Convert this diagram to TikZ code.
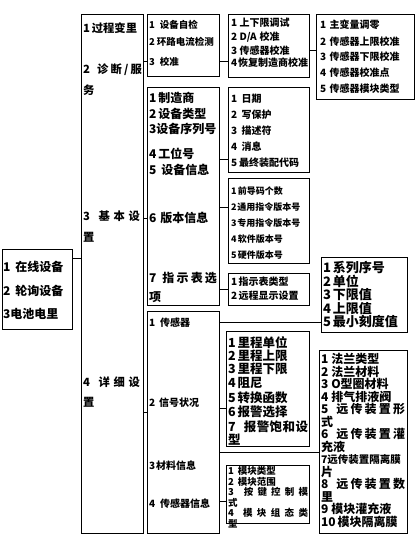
\documentclass[tikz,border=0pt]{standalone}
\usepackage{fontspec}
\newfontfamily\cjk{Noto Sans CJK SC}
\newcommand\jst[2]{\makebox[#1][s]{#2}}
\tikzset{
  box/.style={draw, line width=0.8pt, inner sep=0pt, outer sep=0pt, anchor=north west},
  conn/.style={draw, line width=0.8pt},
  txt/.style={anchor=west, inner sep=0pt, outer sep=0pt},
  s9/.style={txt, font=\cjk\bfseries\fontsize{9}{10}\selectfont},
  s95/.style={txt, font=\cjk\bfseries\fontsize{9.5}{10}\selectfont},
  s10/.style={txt, font=\cjk\bfseries\fontsize{10}{11}\selectfont},
  s105/.style={txt, font=\cjk\bfseries\fontsize{10.5}{11}\selectfont},
  s11/.style={txt, font=\cjk\bfseries\fontsize{11.3}{12}\selectfont},
  s12/.style={txt, font=\cjk\bfseries\fontsize{12}{13}\selectfont},
  s125/.style={txt, font=\cjk\bfseries\fontsize{12.5}{13}\selectfont},
  s13/.style={txt, font=\cjk\bfseries\fontsize{13}{14}\selectfont},
}
\begin{document}
\begin{tikzpicture}[x=1pt, y=-1pt]
\useasboundingbox[fill=white] (0,0) rectangle (417,539);
% boxes
\node[box, minimum width=70, minimum height=80] (L0) at (2,249) {};
\node[box, minimum width=62, minimum height=519] (C2) at (81,14) {};
\node[box, minimum width=72, minimum height=62] (A) at (147,14) {};
\node[box, minimum width=72, minimum height=218] (B) at (147,87) {};
\node[box, minimum width=72, minimum height=222] (Cc) at (147,311) {};
\node[box, minimum width=81, minimum height=63] (D) at (228,14) {};
\node[box, minimum width=98, minimum height=85] (E) at (316,14) {};
\node[box, minimum width=81, minimum height=85] (F) at (228,87) {};
\node[box, minimum width=81, minimum height=85] (G) at (228,178) {};
\node[box, minimum width=81, minimum height=32] (H) at (228,273) {};
\node[box, minimum width=86, minimum height=75] (I) at (321,257) {};
\node[box, minimum width=83, minimum height=115] (J) at (226,331) {};
\node[box, minimum width=88, minimum height=183] (K) at (319,350) {};
\node[box, minimum width=83, minimum height=58] (Lb) at (226,465) {};
% connectors
\draw[conn] (L0.east |- 0,258) -- (C2.west |- 0,258);
\draw[conn] (C2.east |- 0,61) -- (A.west |- 0,61);
\draw[conn] (C2.east |- 0,218) -- (B.west |- 0,218);
\draw[conn] (C2.east |- 0,412) -- (Cc.west |- 0,412);
\draw[conn] (A.east |- 0,61) -- (D.west |- 0,61);
\draw[conn] (D.east |- 0,50) -- (E.west |- 0,50);
\draw[conn] (B.east |- 0,159) -- (F.west |- 0,159);
\draw[conn] (B.east |- 0,207) -- (G.west |- 0,207);
\draw[conn] (B.east |- 0,289) -- (H.west |- 0,289);
\draw[conn] (Cc.east |- 0,322) -- (I.west |- 0,322);
\draw[conn] (Cc.east |- 0,408) -- (J.west |- 0,408);
\draw[conn] (Cc.east |- 0,452) -- (K.west |- 0,452);
\draw[conn] (Cc.east |- 0,501) -- (Lb.west |- 0,501);
% left box
\node[s12] (l1) at (3,267) {1\hspace{5pt}在线设备};
\node[s12] (l2) at (3,291) {2\hspace{5pt}轮询设备};
\node[s12] (l3) at (3,314) {3电池电里};
% column 2
\node[s11] (c1) at (83,28) {1\hspace{2pt}过程变里};
\node[s11] (c2) at (83,70) {\jst{59pt}{2\hspace{5pt}\hfil 诊\hfil 断\hfil /\hfil 服}};
\node[s11] (c2b) at (83,90) {务};
\node[s11] (c3) at (83,216) {\jst{57pt}{3\hspace{5pt}\hfil 基\hfil 本\hfil 设}};
\node[s11] (c3b) at (83,237) {置};
\node[s11] (c4) at (83,382) {\jst{57pt}{4\hspace{5pt}\hfil 详\hfil 细\hfil 设}};
\node[s11] (c4b) at (83,402) {置};
% box A
\node[s95] (a1) at (149,25) {1\hspace{5pt}设备自检};
\node[s95] (a2) at (149,42) {2\hspace{2pt}环路电流检测};
\node[s95] (a3) at (149,62) {3\hspace{5pt}校准};
% box B
\node[s12] (b1) at (149,98) {1\hspace{2pt}制造商};
\node[s12] (b2) at (149,114) {2\hspace{2pt}设备类型};
\node[s12] (b3) at (149,129) {3设备序列号};
\node[s12] (b4) at (149,154) {4\hspace{2pt}工位号};
\node[s12] (b5) at (149,170) {5\hspace{5pt}设备信息};
\node[s12] (b6) at (149,218) {6\hspace{4pt}版本信息};
\node[s12] (b7) at (149,278) {\jst{68pt}{7\hspace{4pt}\hfil 指\hfil 示\hfil 表\hfil 选}};
\node[s12] (b7b) at (149,297) {项};
% box C
\node[s10] (k1) at (149,323) {1\hspace{5pt}传感器};
\node[s10] (k2) at (149,403) {2\hspace{4pt}信号状况};
\node[s10] (k3) at (149,466) {3\hspace{1pt}材料信息};
\node[s10] (k4) at (149,504) {4\hspace{5pt}传感器信息};
% box D
\node[s10] (d1) at (231,23) {1\hspace{2.5pt}上下限调试};
\node[s10] (d2) at (231,37) {2\hspace{2.5pt}D/A\hspace{3pt}校准};
\node[s10] (d3) at (231,51) {3\hspace{2.5pt}传感器校准};
\node[s10] (d4) at (231,63) {4\hspace{1pt}恢复制造商校准};
% box E
\node[s10] (e1) at (320,25) {1\hspace{3.5pt}主变量调零};
\node[s10] (e2) at (320,42) {2\hspace{3.5pt}传感器上限校准};
\node[s10] (e3) at (320,57) {3\hspace{3.5pt}传感器下限校准};
\node[s10] (e4) at (320,73) {4\hspace{3.5pt}传感器校准点};
\node[s10] (e5) at (320,89) {5\hspace{3.5pt}传感器模块类型};
% box F
\node[s10] (f1) at (231,99) {1\hspace{4.5pt}日期};
\node[s10] (f2) at (231,115) {2\hspace{4.5pt}写保护};
\node[s10] (f3) at (231,131) {3\hspace{4.5pt}描述符};
\node[s10] (f4) at (231,147) {4\hspace{4.5pt}消息};
\node[s10] (f5) at (231,163) {5\hspace{2pt}最终装配代码};
% box G
\node[s9] (g1) at (231,191) {1\hspace{1.5pt}前导码个数};
\node[s9] (g2) at (231,207) {2\hspace{1pt}通用指令版本号};
\node[s9] (g3) at (231,223) {3\hspace{1pt}专用指令版本号};
\node[s9] (g4) at (231,239) {4\hspace{1.5pt}软件版本号};
\node[s9] (g5) at (231,255) {5\hspace{1.5pt}硬件版本号};
% box H
\node[s10] (h1) at (231,282) {1\hspace{1.5pt}指示表类型};
\node[s10] (h2) at (231,296) {2\hspace{1.5pt}远程显示设置};
% box I
\node[s13] (i1) at (323,268) {1\hspace{2pt}系列序号};
\node[s13] (i2) at (323,281.5) {2\hspace{2pt}单位};
\node[s13] (i3) at (323,295) {3\hspace{2pt}下限值};
\node[s13] (i4) at (323,308.5) {4\hspace{2pt}上限值};
\node[s13] (i5) at (323,322) {5\hspace{2pt}最小刻度值};
% box J
\node[s125] (j1) at (228,343) {1\hspace{2pt}里程单位};
\node[s125] (j2) at (228,356) {2\hspace{2pt}里程上限};
\node[s125] (j3) at (228,369) {3\hspace{2pt}里程下限};
\node[s125] (j4) at (228,383) {4\hspace{2pt}阻尼};
\node[s125] (j5) at (228,398) {5\hspace{2pt}转换函数};
\node[s125] (j6) at (228,412) {6\hspace{2pt}报警选择};
\node[s125] (j7) at (228,427) {\jst{80pt}{7\hspace{8pt}\hfil 报\hfil 警\hfil 饱\hfil 和\hfil 设}};
\node[s125] (j7b) at (228,440) {型};
% box K
\node[s12] (m1) at (321,359) {1\hspace{3pt}法兰类型};
\node[s12] (m2) at (321,371.5) {2\hspace{3pt}法兰材料};
\node[s12] (m3) at (321,384) {3\hspace{3pt}O型圈材料};
\node[s12] (m4) at (321,396.5) {4\hspace{3pt}排气排液阀};
\node[s12] (m5) at (321,409) {\jst{84pt}{5\hspace{6pt}\hfil 远\hfil 传\hfil 装\hfil 置\hfil 形}};
\node[s12] (m5b) at (321,421.5) {式};
\node[s12] (m6) at (321,434) {\jst{84pt}{6\hspace{6pt}\hfil 远\hfil 传\hfil 装\hfil 置\hfil 灌}};
\node[s12] (m6b) at (321,446.5) {充液};
\node[s105] (m7) at (321,459) {7远传装置隔离膜};
\node[s12] (m7b) at (321,471.5) {片};
\node[s12] (m8) at (321,484) {\jst{84pt}{8\hspace{6pt}\hfil 远\hfil 传\hfil 装\hfil 置\hfil 数}};
\node[s12] (m8b) at (321,496.5) {里};
\node[s12] (m9) at (321,509) {9\hspace{3pt}模块灌充液};
\node[s12] (m10) at (321,521.5) {10\hspace{2pt}模块隔离膜};
% box L
\node[s95] (n1) at (228,471) {1\hspace{4pt}模块类型};
\node[s95] (n2) at (228,481.5) {2\hspace{4pt}模块范围};
\node[s95] (n3) at (228,492) {\jst{80pt}{3\hspace{6pt}\hfil 按\hfil 键\hfil 控\hfil 制\hfil 模}};
\node[s95] (n3b) at (228,502.5) {式};
\node[s95] (n4) at (228,513) {\jst{80pt}{4\hspace{5pt}\hfil 模\hfil 块\hfil 组\hfil 态\hfil 类}};
\node[s95] (n4b) at (228,523.5) {型};
\end{tikzpicture}
\end{document}
